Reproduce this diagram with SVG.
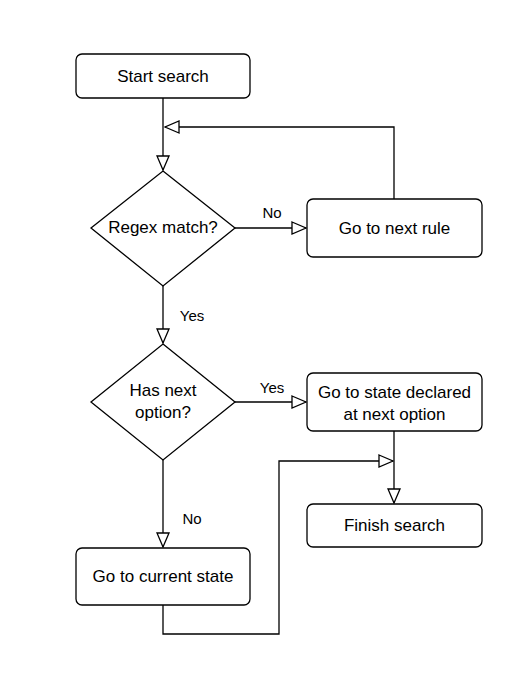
<svg xmlns="http://www.w3.org/2000/svg" width="524" height="685" viewBox="0 0 524 685">
<style>
.box{fill:#fff;stroke:#000;stroke-width:1.3}
.t{font-family:"Liberation Sans",Arial,sans-serif;font-size:17px;fill:#000;text-anchor:middle}
.l{font-family:"Liberation Sans",Arial,sans-serif;font-size:15px;fill:#000;text-anchor:middle}
.c{fill:none;stroke:#000;stroke-width:1.3}
</style>
<defs>
<marker id="arr" viewBox="-1 -1 16 14" refX="14" refY="6" markerWidth="16" markerHeight="14" markerUnits="userSpaceOnUse" orient="auto">
<path d="M0,0 L14,6 L0,12 Z" fill="#fff" stroke="#000" stroke-width="1.3"/>
</marker>
</defs>
<rect width="524" height="685" fill="#fff"/>
<g id="connectors">
<path class="c" d="M163,98 V170" marker-end="url(#arr)"/>
<path class="c" d="M394,199 V127 H165" marker-end="url(#arr)"/>
<path class="c" d="M235,228 H306" marker-end="url(#arr)"/>
<path class="c" d="M163,286 V343" marker-end="url(#arr)"/>
<path class="c" d="M235,402 H306" marker-end="url(#arr)"/>
<path class="c" d="M163,460 V547" marker-end="url(#arr)"/>
<path class="c" d="M394,431 V503" marker-end="url(#arr)"/>
<path class="c" d="M163,605 V634 H279 V461 H393" marker-end="url(#arr)"/>
<text class="l" x="272" y="218">No</text>
<text class="l" x="192" y="321">Yes</text>
<text class="l" x="272" y="393">Yes</text>
<text class="l" x="192" y="524">No</text>
</g>
<g id="start">
<rect class="box" x="76" y="54" width="174" height="44" rx="6"/>
<text class="t" x="163" y="82">Start search</text>
</g>
<g id="regex">
<polygon class="box" points="163,171 235,228 163,286 91,228"/>
<text class="t" x="163" y="233">Regex match?</text>
</g>
<g id="nextrule">
<rect class="box" x="307" y="199" width="175" height="58" rx="6"/>
<text class="t" x="394.5" y="234">Go to next rule</text>
</g>
<g id="hasnext">
<polygon class="box" points="163,344 235,402 163,460 91,402"/>
<text class="t" x="163" y="396">Has next</text>
<text class="t" x="163" y="418">option?</text>
</g>
<g id="declared">
<rect class="box" x="307" y="373" width="175" height="58" rx="6"/>
<text class="t" x="394.5" y="398">Go to state declared</text>
<text class="t" x="394.5" y="420">at next option</text>
</g>
<g id="finish">
<rect class="box" x="307" y="504" width="175" height="43" rx="6"/>
<text class="t" x="394.5" y="531">Finish search</text>
</g>
<g id="current">
<rect class="box" x="76" y="548" width="174" height="57" rx="6"/>
<text class="t" x="163" y="582">Go to current state</text>
</g>
</svg>
